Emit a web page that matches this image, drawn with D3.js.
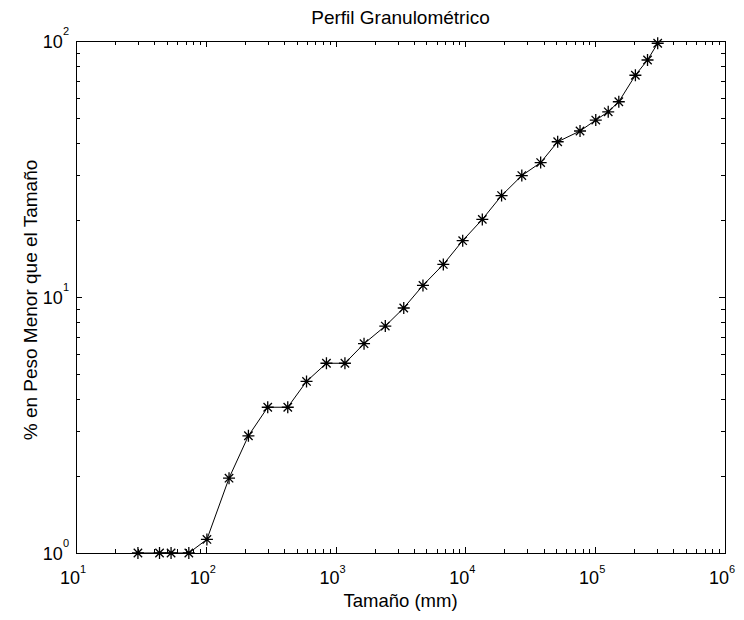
<!DOCTYPE html>
<html>
<head>
<meta charset="utf-8">
<script src="https://cdn.jsdelivr.net/npm/d3@7"></script>
<style>
  html, body { margin: 0; padding: 0; background: #fff; }
  svg { display: block; }
  text { font-family: "Liberation Sans", Arial, Helvetica, sans-serif; fill: #000; }
</style>
</head>
<body>
<svg id="chart" width="744" height="620"></svg>
<script>
// ---- data ----
const tamano = [30, 44, 54, 74, 102, 151, 213, 300, 428, 597, 850, 1180, 1656, 2415, 3350,
                4710, 6760, 9530, 13500, 19000, 27200, 38000, 51400, 76400, 101000, 126000,
                152000, 204000, 253000, 303000];
const pesoMenor = [1, 1, 1, 1, 1.13, 1.96, 2.87, 3.71, 3.71, 4.68, 5.51, 5.51, 6.57, 7.7, 9.06,
                   11.1, 13.4, 16.6, 20.1, 24.9, 29.8, 33.5, 40.4, 44.5, 49.1, 52.9,
                   57.9, 73.5, 84.3, 98];
const xExponents = [1, 2, 3, 4, 5, 6];
const yExponents = [0, 1, 2];
const titleText = "Perfil Granulométrico";
const xLabelText = "Tamaño (mm)";
const yLabelText = "% en Peso Menor que el Tamaño";

// ---- layout ----
const pLeft = 76, pRight = 725, pTop = 41, pBottom = 553;
const svg = d3.select("#chart");

const x = d3.scaleLog().domain([10, 1e6]).range([pLeft, pRight]);
const y = d3.scaleLog().domain([1, 100]).range([pBottom, pTop]);

// minor / major tick values
const xMajor = xExponents.map(e => Math.pow(10, e));
const yMajor = yExponents.map(e => Math.pow(10, e));
const xMinor = [], yMinor = [];
for (let e = 1; e < 6; e++) for (let m = 2; m <= 9; m++) xMinor.push(m * Math.pow(10, e));
for (let e = 0; e < 2; e++) for (let m = 2; m <= 9; m++) yMinor.push(m * Math.pow(10, e));

function axisGroup(gen, tx, ty) {
  const g = svg.append("g").attr("transform", `translate(${tx},${ty})`).call(gen);
  g.selectAll("text").remove();
  g.select(".domain").remove();
  g.selectAll("line").attr("stroke", "#000").attr("stroke-width", 1).attr("shape-rendering", "crispEdges");
  return g;
}
const majorLen = 6, minorLen = 4;
// bottom
axisGroup(d3.axisBottom(x).tickValues(xMajor).tickSize(-majorLen).tickFormat(""), 0, pBottom);
axisGroup(d3.axisBottom(x).tickValues(xMinor).tickSize(-minorLen).tickFormat(""), 0, pBottom);
// top
axisGroup(d3.axisTop(x).tickValues(xMajor).tickSize(-majorLen).tickFormat(""), 0, pTop);
axisGroup(d3.axisTop(x).tickValues(xMinor).tickSize(-minorLen).tickFormat(""), 0, pTop);
// left
axisGroup(d3.axisLeft(y).tickValues(yMajor).tickSize(-majorLen).tickFormat(""), pLeft, 0);
axisGroup(d3.axisLeft(y).tickValues(yMinor).tickSize(-minorLen).tickFormat(""), pLeft, 0);
// right
axisGroup(d3.axisRight(y).tickValues(yMajor).tickSize(-majorLen).tickFormat(""), pRight, 0);
axisGroup(d3.axisRight(y).tickValues(yMinor).tickSize(-minorLen).tickFormat(""), pRight, 0);

// box
svg.append("rect")
  .attr("x", pLeft + 0.5).attr("y", pTop + 0.5)
  .attr("width", pRight - pLeft).attr("height", pBottom - pTop)
  .attr("fill", "none").attr("stroke", "#000").attr("stroke-width", 1)
  .attr("shape-rendering", "crispEdges");

// x tick labels
xExponents.forEach(e => {
  const t = svg.append("text")
    .attr("x", x(Math.pow(10, e)) - 3)
    .attr("y", pBottom + 31)
    .attr("text-anchor", "middle")
    .attr("font-size", 18)
    .text("10");
  t.append("tspan").attr("dy", -11).attr("font-size", 11).text(e);
});
// y tick labels
yExponents.forEach(e => {
  const t = svg.append("text")
    .attr("x", pLeft - 7)
    .attr("y", y(Math.pow(10, e)) + 6.5)
    .attr("text-anchor", "end")
    .attr("font-size", 18)
    .text("10");
  t.append("tspan").attr("dy", -13).attr("font-size", 11).text(e);
});

// title and labels
svg.append("text").attr("x", (pLeft + pRight) / 2).attr("y", 24)
  .attr("text-anchor", "middle").attr("font-size", 19).text(titleText);
svg.append("text").attr("x", (pLeft + pRight) / 2).attr("y", 607)
  .attr("text-anchor", "middle").attr("font-size", 18.5).text(xLabelText);
svg.append("text").attr("transform", `translate(37,${(pTop + pBottom) / 2 + 3}) rotate(-90)`)
  .attr("text-anchor", "middle").attr("font-size", 19).text(yLabelText);

// data line
const data = tamano.map((d, i) => ({ x: d, y: pesoMenor[i] }));
svg.append("path")
  .datum(data)
  .attr("fill", "none").attr("stroke", "#000").attr("stroke-width", 1)
  .attr("d", d3.line().x(d => x(d.x)).y(d => y(d.y)));

// asterisk markers
const star = "M-6,0H6M0,-6V6M-4.2,-4.2L4.2,4.2M-4.2,4.2L4.2,-4.2";
svg.append("g").selectAll("path").data(data).join("path")
  .attr("transform", d => `translate(${x(d.x)},${y(d.y)})`)
  .attr("d", star)
  .attr("fill", "none").attr("stroke", "#000").attr("stroke-width", 1.3);
</script>
</body>
</html>
